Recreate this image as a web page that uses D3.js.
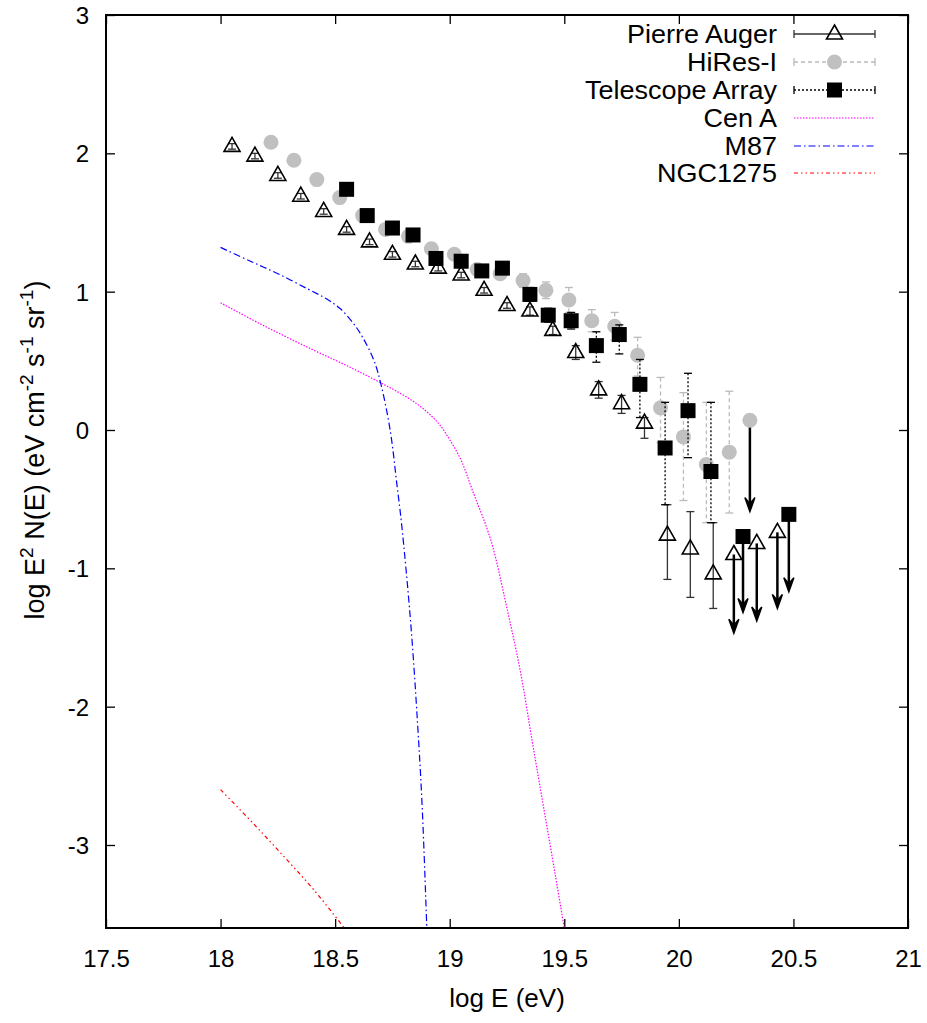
<!DOCTYPE html>
<html><head><meta charset="utf-8">
<script src="https://cdn.jsdelivr.net/npm/d3@7"></script>
<style>
body{margin:0;background:#fff}
svg{display:block}
text{font-family:"Liberation Sans",Arial,Helvetica,sans-serif;fill:#000}
</style>
</head><body>
<svg id="chart" width="927" height="1023"></svg>
<script>
// ---------- tick labels ----------
const xTicks = [17.5, 18, 18.5, 19, 19.5, 20, 20.5, 21];
const yTicks = [-3, -2, -1, 0, 1, 2, 3];

// ---------- Pierre Auger ----------
const augerE  = [18.05,18.15,18.25,18.35,18.45,18.55,18.65,18.75,18.85,18.95,19.05,19.15,19.25,19.35,19.45,19.55,19.65,19.75,19.85,19.95,20.05,20.15];
const augerV  = [2.05,1.98,1.84,1.69,1.58,1.45,1.36,1.27,1.20,1.17,1.12,1.01,0.90,0.86,0.72,0.56,0.29,0.19,0.05,-0.76,-0.86,-1.04];
const augerUp = [0.02,0.02,0.02,0.02,0.02,0.02,0.02,0.02,0.02,0.02,0.02,0.02,0.02,0.03,0.03,0.05,0.06,0.06,0.04,0.22,0.27,0.37];
const augerDn = [0.02,0.02,0.02,0.02,0.02,0.02,0.02,0.02,0.02,0.02,0.02,0.02,0.02,0.03,0.03,0.05,0.06,0.07,0.11,0.32,0.35,0.25];
const augerLimE   = [20.24, 20.34, 20.43];
const augerLimV   = [-0.90, -0.82, -0.74];
const augerLimTip = [-1.47, -1.38, -1.29];

// ---------- HiRes-I ----------
const hiresE  = [18.22,18.32,18.42,18.52,18.62,18.72,18.82,18.92,19.02,19.12,19.22,19.32,19.42,19.52,19.62,19.72,19.82,19.92,20.02,20.12,20.22];
const hiresV  = [2.08,1.95,1.81,1.68,1.55,1.45,1.40,1.31,1.27,1.16,1.13,1.08,1.01,0.94,0.79,0.75,0.54,0.16,-0.05,-0.25,-0.16];
const hiresUp = [0.02,0.02,0.02,0.02,0.02,0.03,0.03,0.03,0.03,0.03,0.04,0.05,0.06,0.09,0.08,0.10,0.13,0.22,0.32,0.45,0.44];
const hiresDn = [0.02,0.02,0.02,0.02,0.02,0.03,0.03,0.03,0.03,0.03,0.04,0.05,0.06,0.09,0.08,0.10,0.15,0.25,0.46,0.42,0.44];
const hiresLimE   = [20.31];
const hiresLimV   = [0.07];
const hiresLimTip = [-0.59];

// ---------- Telescope Array ----------
const taE  = [18.55,18.64,18.75,18.84,18.94,19.05,19.14,19.23,19.35,19.43,19.53,19.64,19.74,19.83,19.94,20.04,20.14];
const taV  = [1.74,1.55,1.46,1.41,1.24,1.22,1.15,1.17,0.98,0.83,0.79,0.61,0.69,0.33,-0.13,0.14,-0.30];
const taUp = [0.03,0.03,0.03,0.03,0.03,0.04,0.04,0.04,0.05,0.05,0.06,0.10,0.07,0.18,0.33,0.27,0.50];
const taDn = [0.03,0.03,0.03,0.03,0.03,0.04,0.04,0.04,0.05,0.05,0.06,0.12,0.14,0.24,0.41,0.34,0.37];
const taLimE   = [20.28, 20.48];
const taLimV   = [-0.77, -0.61];
const taLimTip = [-1.32, -1.17];

// ---------- model curves ----------
const cenAE = [18.0,18.17,18.39,18.57,18.70,18.80,18.88,18.95,19.0,19.05,19.10,19.18,19.25,19.31,19.36,19.41,19.46,19.50];
const cenAV = [0.92,0.77,0.59,0.45,0.34,0.25,0.16,0.05,-0.07,-0.22,-0.44,-0.80,-1.29,-1.76,-2.25,-2.73,-3.21,-3.6];
const m87E  = [18.0,18.13,18.25,18.38,18.46,18.52,18.58,18.62,18.67,18.70,18.74,18.77,18.79,18.83,18.86,18.88,18.90];
const m87V  = [1.32,1.22,1.13,1.02,0.95,0.88,0.77,0.67,0.50,0.33,0.0,-0.40,-0.68,-1.40,-2.13,-2.73,-3.6];
const ngcE  = [18.0,18.14,18.28,18.41,18.54];
const ngcV  = [-2.60,-2.84,-3.09,-3.33,-3.60];

const legendLabels = ["Pierre Auger","HiRes-I","Telescope Array","Cen A","M87","NGC1275"];

// ---------- drawing ----------
const svg = d3.select("#chart");
const L = 106, R = 908, T = 15, B = 928;
const x = d3.scaleLinear().domain([17.5, 21]).range([L, R]);
const y = d3.scaleLinear().domain([-3.6, 3]).range([B, T]);

svg.append("defs").append("clipPath").attr("id","plotclip")
  .append("rect").attr("x",L).attr("y",T).attr("width",R-L).attr("height",B-T);

const fmt = d => String(d);
const tickLen = 9;
const gx = svg.append("g").attr("transform",`translate(0,${B})`)
  .call(d3.axisBottom(x).tickValues(xTicks).tickSize(-tickLen).tickPadding(22).tickFormat(fmt));
const gxt = svg.append("g").attr("transform",`translate(0,${T})`)
  .call(d3.axisTop(x).tickValues(xTicks).tickSize(-tickLen).tickFormat(""));
const gy = svg.append("g").attr("transform",`translate(${L},0)`)
  .call(d3.axisLeft(y).tickValues(yTicks).tickSize(-tickLen).tickPadding(17).tickFormat(fmt));
const gyr = svg.append("g").attr("transform",`translate(${R},0)`)
  .call(d3.axisRight(y).tickValues(yTicks).tickSize(-tickLen).tickFormat(""));
[gx,gxt,gy,gyr].forEach(g=>{
  g.select(".domain").remove();
  g.selectAll(".tick line").attr("stroke","#000").attr("stroke-width",1.3);
  g.selectAll("text").attr("font-size",24).attr("fill","#000")
    .style("font-family",'"Liberation Sans",Arial,sans-serif');
});
gy.selectAll("text").attr("dy","0.35em");

svg.append("rect").attr("x",L).attr("y",T).attr("width",R-L).attr("height",B-T)
  .attr("fill","none").attr("stroke","#000").attr("stroke-width",2);

svg.append("text").attr("x",(L+R)/2).attr("y",1007).attr("text-anchor","middle")
  .attr("font-size",26).text("log E (eV)");
const yl = svg.append("text").attr("transform","translate(44,450) rotate(-90)")
  .attr("text-anchor","middle").attr("font-size",27);
yl.append("tspan").text("log E");
yl.append("tspan").attr("dy",-11).attr("font-size",19).text("2");
yl.append("tspan").attr("dy",11).text(" N(E) (eV  cm");
yl.append("tspan").attr("dy",-11).attr("font-size",19).text("-2");
yl.append("tspan").attr("dy",11).text(" s");
yl.append("tspan").attr("dy",-11).attr("font-size",19).text("-1");
yl.append("tspan").attr("dy",11).text(" sr");
yl.append("tspan").attr("dy",-11).attr("font-size",19).text("-1");
yl.append("tspan").attr("dy",11).text(")");

const plot = svg.append("g").attr("clip-path","url(#plotclip)");

const line = d3.line().x(d=>x(d[0])).y(d=>y(d[1])).curve(d3.curveCatmullRom.alpha(0.5));
const curveStyles = [
  {E:cenAE, V:cenAV, color:"#ff00ff", dash:"1.5,1.5"},
  {E:m87E,  V:m87V,  color:"#0000ff", dash:"7,3,1.5,3"},
  {E:ngcE,  V:ngcV,  color:"#ff0000", dash:"4,3,1.5,3,1.5,3"}
];

function triangle(g, cx, cy){
  g.append("path").attr("d",`M${cx},${cy-9}L${cx+8},${cy+5}L${cx-8},${cy+5}Z`)
   .attr("fill","none").attr("stroke","#000").attr("stroke-width",1.6);
}
function circle(g, cx, cy){
  g.append("circle").attr("cx",cx).attr("cy",cy).attr("r",7.5).attr("fill","#c0c0c0");
}
function square(g, cx, cy){
  g.append("rect").attr("x",cx-7.5).attr("y",cy-7.5).attr("width",15).attr("height",15).attr("fill","#000");
}
function errbar(g, cx, yt, yb, color, dash, w){
  const s = g.append("g").attr("stroke",color).attr("stroke-width",w).attr("fill","none");
  s.append("line").attr("x1",cx).attr("x2",cx).attr("y1",yt).attr("y2",yb).attr("stroke-dasharray",dash);
  s.append("line").attr("x1",cx-4).attr("x2",cx+4).attr("y1",yt).attr("y2",yt);
  s.append("line").attr("x1",cx-4).attr("x2",cx+4).attr("y1",yb).attr("y2",yb);
}
function arrow(g, cx, y0, y1){
  g.append("line").attr("x1",cx).attr("x2",cx).attr("y1",y0).attr("y2",y1-3)
   .attr("stroke","#000").attr("stroke-width",2.5);
  g.append("path").attr("d",`M${cx},${y1}L${cx-5},${y1-14}L${cx},${y1-8}L${cx+5},${y1-14}Z`)
   .attr("fill","#000").attr("stroke","#000").attr("stroke-width",1.5).attr("stroke-linejoin","miter");
}

const series = [
  {E:augerE,V:augerV,Up:augerUp,Dn:augerDn,LE:augerLimE,LV:augerLimV,LT:augerLimTip,mark:triangle,color:"#333",dash:null,w:1.3},
  {E:hiresE,V:hiresV,Up:hiresUp,Dn:hiresDn,LE:hiresLimE,LV:hiresLimV,LT:hiresLimTip,mark:circle,color:"#bbb",dash:"4,3",w:1.3},
  {E:taE,V:taV,Up:taUp,Dn:taDn,LE:taLimE,LV:taLimV,LT:taLimTip,mark:square,color:"#000",dash:"2,2",w:1.3}
];

series.forEach(s=>{
  const g = plot.append("g");
  s.E.forEach((e,i)=>errbar(g, x(e), y(s.V[i]+s.Up[i]), y(s.V[i]-s.Dn[i]), s.color, s.dash, s.w));
  s.LE.forEach((e,i)=>arrow(g, x(e), y(s.LV[i]), y(s.LT[i])));
  s.E.forEach((e,i)=>s.mark(g, x(e), y(s.V[i])));
  s.LE.forEach((e,i)=>s.mark(g, x(e), y(s.LV[i])));
});

curveStyles.forEach(c=>{
  plot.append("path").datum(c.E.map((e,i)=>[e,c.V[i]])).attr("d",line)
    .attr("fill","none").attr("stroke",c.color).attr("stroke-width",1.2).attr("stroke-dasharray",c.dash);
});

// legend
const lg = svg.append("g");
const rowY = [34, 62, 90, 118, 146, 173];
const sx0 = 794, sx1 = 875, textX = 777;
legendLabels.forEach((lab,i)=>{
  lg.append("text").attr("transform",`translate(${textX},${rowY[i]}) scale(1.08,1)`)
    .attr("dy","0.35em").attr("text-anchor","end").attr("font-size",25).text(lab);
});
series.forEach((s,i)=>{
  const yy = rowY[i];
  const g = lg.append("g").attr("stroke",s.color).attr("stroke-width",s.w).attr("fill","none");
  g.append("line").attr("x1",sx0).attr("x2",sx1).attr("y1",yy).attr("y2",yy).attr("stroke-dasharray",s.dash);
  g.append("line").attr("x1",sx0).attr("x2",sx0).attr("y1",yy-4).attr("y2",yy+4);
  g.append("line").attr("x1",sx1).attr("x2",sx1).attr("y1",yy-4).attr("y2",yy+4);
  s.mark(lg, (sx0+sx1)/2, yy);
});
curveStyles.forEach((c,i)=>{
  const yy = rowY[3+i];
  lg.append("line").attr("x1",sx0).attr("x2",sx1).attr("y1",yy).attr("y2",yy)
    .attr("stroke",c.color).attr("stroke-width",1.2).attr("stroke-dasharray",c.dash);
});
</script>
</body></html>
